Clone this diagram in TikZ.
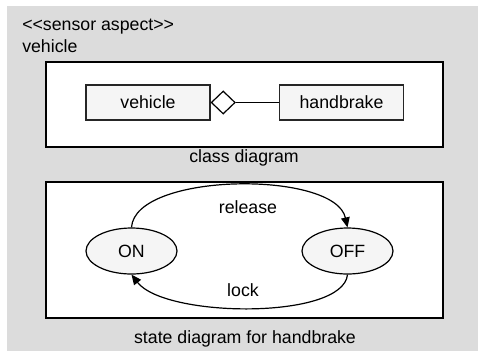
\documentclass[tikz,border=0pt]{standalone}
\usepackage{fontspec}
\setmainfont{Liberation Sans}[Ligatures=NoCommon]
\usetikzlibrary{arrows.meta,shapes.geometric}
\definecolor{pane}{HTML}{DCDCDC}
\definecolor{boxfill}{HTML}{F5F5F5}
\tikzset{
  panel/.style={draw=black, line width=1.1pt, fill=white},
  classbox/.style={draw=black!85, line width=0.9pt, fill=boxfill, minimum width=124*0.75pt, minimum height=35*0.75pt, inner sep=0pt},
  statebox/.style={ellipse, draw=black, line width=0.9pt, fill=boxfill, minimum width=91*0.75pt, minimum height=46*0.75pt, inner sep=0pt},
  agg/.style={diamond, draw=black, line width=0.9pt, fill=white, minimum width=24*0.75pt, minimum height=23*0.75pt, inner sep=0pt},
  trans/.style={line width=0.9pt, -{Triangle[length=7.5pt,width=6.5pt]}},
  lbl/.style={inner sep=0pt}
}
\begin{document}
\begin{tikzpicture}[x=0.75pt,y=-0.75pt,font=\fontsize{13.3}{15}\selectfont]
\useasboundingbox (0,0) rectangle (478,351);
% outer package area
\fill[pane] (7,6) rectangle (478,351);
\node[lbl, anchor=west] (stereo) at (22,27) {\textless{}\textless{}sensor aspect\textgreater{}\textgreater{}};
\node[lbl, anchor=west] (pkgname) at (22,46) {vehicle};

% class diagram panel
\draw[panel] (46,62) rectangle (443,147);
\node[classbox] (veh) at (148,102.5) {vehicle};
\node[classbox] (hb) at (341.5,102.5) {handbrake};
\node[agg, anchor=west] (dia) at (veh.east) {};
\draw[line width=0.9pt] (dia.east) -- (hb.west);
\node[lbl] (cdcap) at (244,158) {class diagram};

% state diagram panel
\draw[panel] (46,182) rectangle (443,318);
\node[statebox] (on) at (131.5,251) {ON};
\node[statebox] (off) at (347.5,251) {OFF};
\draw[trans] (on.north) .. controls (135,172) and (335,170) .. (off.north);
\draw[trans] (off.south) .. controls (343,320) and (165,318) .. (on.south);
\node[lbl] (rel) at (248,207) {release};
\node[lbl] (lck) at (243,290) {lock};
\node[lbl] (sdcap) at (245,339) {state diagram for handbrake};
\end{tikzpicture}
\end{document}
